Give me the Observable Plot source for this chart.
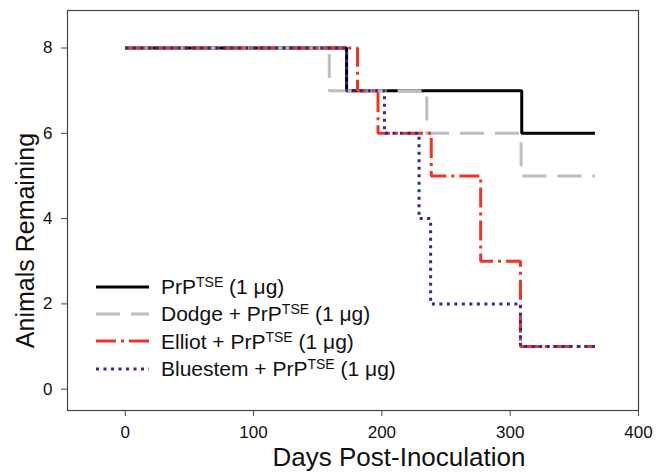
<!DOCTYPE html>
<html>
<head>
<meta charset="utf-8">
<script src="https://cdn.jsdelivr.net/npm/d3@7"></script>
<script src="https://cdn.jsdelivr.net/npm/@observablehq/plot@0.6"></script>
<style>
  html, body { margin: 0; padding: 0; background: #fff; }
  #wrap { position: relative; width: 666px; height: 475px; font-family: "Liberation Sans", Arial, sans-serif; }
  #legend { position: absolute; left: 96px; top: 273px; font-size: 21px; color: #111; line-height: 27.4px; }
  #legend .row { display: flex; align-items: center; height: 27.4px; white-space: nowrap; }
  #legend svg { width: 53px; height: 8px; margin-right: 12px; }
  #legend sup { font-size: 14px; vertical-align: 7px; line-height: 0; }
</style>
</head>
<body>
<div id="wrap"></div>
<script>
// ---- data ----
const xTicks = [0, 100, 200, 300, 400];
const yTicks = [0, 2, 4, 6, 8];

const prpDays = [0, 172.5, 309, 366];
const prpCounts = [8, 7, 6, 6];

const dodgeDays = [0, 159, 235, 308.5, 366];
const dodgeCounts = [8, 7, 6, 5, 5];

const elliotDays = [0, 181, 197, 238.5, 277, 308, 366];
const elliotCounts = [8, 7, 6, 5, 3, 1, 1];

const bluestemDays = [0, 172.5, 202, 229, 238, 308, 366];
const bluestemCounts = [8, 7, 6, 4, 2, 1, 1];

const seriesNames = ["PrP", "Dodge + PrP", "Elliot + PrP", "Bluestem + PrP"];

// ---- styles ----
const styles = [
  {stroke: "#000000", strokeWidth: 3, dash: null},
  {stroke: "#bcbdc6", strokeWidth: 3, dash: "24,11"},
  {stroke: "#ee3524", strokeWidth: 3, dash: "20,5,3,5"},
  {stroke: "#2b2b96", strokeWidth: 3, dash: "3,4.5"}
];

const toRows = (days, counts) => days.map((d, i) => ({day: d, n: counts[i]}));
const series = [
  toRows(prpDays, prpCounts),
  toRows(dodgeDays, dodgeCounts),
  toRows(elliotDays, elliotCounts),
  toRows(bluestemDays, bluestemCounts)
];

const lineMarks = series.map((rows, i) => Plot.line(rows, {
  x: "day", y: "n", curve: "step-after",
  stroke: styles[i].stroke, strokeWidth: styles[i].strokeWidth,
  strokeDasharray: styles[i].dash, strokeLinecap: "butt", strokeLinejoin: "miter"
}));

const chart = Plot.plot({
  width: 666, height: 475,
  marginLeft: 67, marginRight: 28, marginTop: 10, marginBottom: 65,
  style: {fontFamily: "'Liberation Sans', Arial, sans-serif", background: "#fff", color: "#111"},
  x: {domain: [-45, 400]},
  y: {domain: [-0.5, 8.88]},
  marks: [
    Plot.axisX({ticks: xTicks, tickSize: 6, tickPadding: 9, fontSize: 17, label: null, stroke: "#444"}),
    Plot.axisY({ticks: yTicks, tickSize: 6, tickPadding: 9, fontSize: 17, label: null, stroke: "#444"}),
    Plot.text(["Days Post-Inoculation"], {frameAnchor: "bottom", dx: 46, dy: 55, fontSize: 26, fill: "#111"}),
    Plot.text(["Animals Remaining"], {frameAnchor: "left", rotate: -90, textAnchor: "middle", dx: -42, dy: 30, fontSize: 25, fill: "#111"}),
    ...lineMarks,
    Plot.frame({stroke: "#444", strokeWidth: 1.2})
  ]
});

const wrap = document.getElementById("wrap");
wrap.appendChild(chart);

// ---- legend ----
const legend = document.createElement("div");
legend.id = "legend";
seriesNames.forEach((name, i) => {
  const row = document.createElement("div");
  row.className = "row";
  const s = styles[i];
  row.innerHTML = `<svg viewBox="0 0 53 8"><line x1="0" y1="4" x2="53" y2="4" stroke="${s.stroke}" stroke-width="${s.strokeWidth}" ${s.dash ? `stroke-dasharray="${s.dash}"` : ""}/></svg><span>${name}<sup>TSE</sup> (1 μg)</span>`;
  legend.appendChild(row);
});
wrap.appendChild(legend);
</script>
</body>
</html>
